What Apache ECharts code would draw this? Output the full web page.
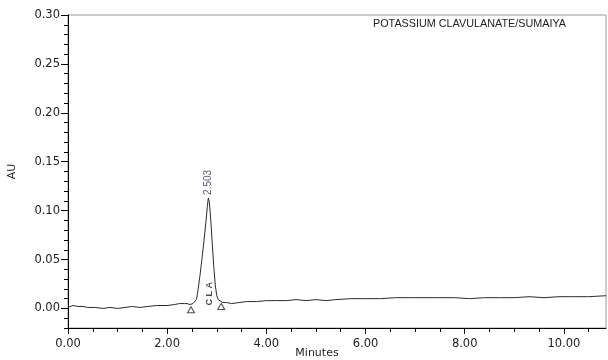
<!DOCTYPE html>
<html>
<head>
<meta charset="utf-8">
<script src="https://cdn.jsdelivr.net/npm/echarts@6/dist/echarts.min.js"></script>
<style>
html,body{margin:0;padding:0;background:#fff;}
#c{width:608px;height:360px;}
</style>
</head>
<body>
<div id="c"></div>
<script>
// ---- data ----
var times = [0.00,0.10,0.20,0.30,0.40,0.55,0.70,0.85,1.00,1.15,1.30,1.45,1.60,1.80,2.00,2.15,2.25,2.35,
  2.40,2.46,2.52,2.56,2.59,2.62,2.66,2.70,2.74,2.78,2.81,2.83,2.85,2.88,2.91,2.94,2.97,3.00,3.03,3.07,3.12,
  3.20,3.30,3.45,3.60,3.80,4.00,4.20,4.40,4.60,4.80,5.00,5.20,5.40,5.70,6.00,6.30,6.60,6.90,7.20,7.50,7.80,
  8.10,8.40,8.70,9.00,9.30,9.60,9.90,10.20,10.50,10.85];
var au = [0.001,0.003,0.002,0.002,0.001,0.001,0.000,0.001,0.000,0.001,0.002,0.001,0.002,0.003,0.003,0.004,0.005,0.005,
  0.005,0.004,0.005,0.006,0.009,0.018,0.033,0.050,0.068,0.088,0.104,0.113,0.109,0.090,0.066,0.043,0.024,0.013,0.009,0.007,0.006,
  0.006,0.005,0.006,0.007,0.007,0.008,0.008,0.008,0.009,0.008,0.009,0.008,0.009,0.010,0.010,0.010,0.011,0.011,0.011,0.011,0.011,
  0.010,0.011,0.011,0.011,0.012,0.011,0.012,0.012,0.012,0.013];
var peakTime = [2.83];
var peakAU = [0.113];
var peakLabel = ['2.503'];
var peakName = ['C L A'];
var nameTime = [2.845];
var nameAU = [0.003];
var markerTimes = [2.48, 3.09];
var markerAU = [-0.0013, 0.002];
var xMajor = [0, 2, 4, 6, 8, 10];
var xMinor = [0.5,1,1.5,2.5,3,3.5,4.5,5,5.5,6.5,7,7.5,8.5,9,9.5,10.5];
var yMajor = [0, 0.05, 0.10, 0.15, 0.20, 0.25, 0.30];
var yMinor = [-0.02,-0.01,0.01,0.02,0.03,0.04,0.06,0.07,0.08,0.09,0.11,0.12,0.13,0.14,0.16,0.17,0.18,0.19,0.21,0.22,0.23,0.24,0.26,0.27,0.28,0.29];
var title = 'POTASSIUM CLAVULANATE/SUMAIYA';

var lineData = times.map(function(t,i){return [t, au[i]];});
var markerData = markerTimes.map(function(t,i){return [t, markerAU[i]];});
var apexData = peakTime.map(function(t,i){return [t, peakAU[i]];});
var nameData = nameTime.map(function(t,i){return [t, nameAU[i]];});

var FONT = 'DejaVu Sans';
var chart = echarts.init(document.getElementById('c'), null, {renderer:'canvas'});
chart.setOption({
  animation: false,
  title: {
    text: title, right: 42, top: 19, padding: 0,
    textStyle: {fontFamily: 'Liberation Sans', fontSize: 10.8, fontWeight: 'normal', color: '#222'}
  },
  grid: {left: 68, right: 2, top: 15, bottom: 32, show: true, borderColor: '#9a9a9a', borderWidth: 1,
    containLabel: false, outerBoundsMode: 'none'},
  xAxis: [{
    type: 'value', min: 0, max: 10.85, interval: 2,
    name: 'Minutes', nameLocation: 'middle', nameGap: 20, nameMoveOverlap: false,
    nameTextStyle: {fontFamily: FONT, fontSize: 11, color: '#222', padding: [0, 40, 0, 0]},
    axisLine: {show: true, onZero: false, lineStyle: {color: '#000', width: 1}},
    axisTick: {show: true, length: 6, customValues: xMajor, lineStyle: {color: '#000'}},
    axisLabel: {customValues: xMajor, formatter: function(v){return v.toFixed(2);}, margin: 10,
      fontFamily: FONT, fontSize: 11.5, color: '#222'},
    splitLine: {show: false}
  },{
    type: 'value', min: 0, max: 10.85, position: 'bottom',
    axisLine: {show: false, onZero: false},
    axisTick: {show: true, length: 4, customValues: xMinor, lineStyle: {color: '#000'}},
    axisLabel: {show: false},
    splitLine: {show: false}
  }],
  yAxis: [{
    type: 'value', min: -0.02, max: 0.30,
    name: 'AU', nameLocation: 'middle', nameGap: 50, nameRotate: 90, nameMoveOverlap: false,
    nameTextStyle: {fontFamily: FONT, fontSize: 11, color: '#222'},
    axisLine: {show: true, onZero: false, lineStyle: {color: '#000', width: 1}},
    axisTick: {show: true, length: 7, customValues: yMajor, lineStyle: {color: '#000'}},
    axisLabel: {customValues: yMajor, formatter: function(v){return v.toFixed(2);}, margin: 8,
      fontFamily: FONT, fontSize: 11.5, color: '#222'},
    splitLine: {show: false}
  },{
    type: 'value', min: -0.02, max: 0.30, position: 'left',
    axisLine: {show: false, onZero: false},
    axisTick: {show: true, length: 4, customValues: yMinor, lineStyle: {color: '#000'}},
    axisLabel: {show: false},
    splitLine: {show: false}
  }],
  series: [{
    type: 'line', data: lineData, showSymbol: false, symbol: 'none',
    lineStyle: {color: '#2a2a2a', width: 1}, z: 3
  },{
    type: 'scatter', data: markerData, symbol: 'triangle', symbolSize: [7, 6],
    itemStyle: {color: '#fff', borderColor: '#222', borderWidth: 1}, z: 4
  },{
    type: 'scatter', data: apexData, symbolSize: 0,
    label: {show: true, position: 'top', distance: 6, rotate: 90, align: 'left', verticalAlign: 'middle',
      offset: [-3, 0],
      formatter: function(p){return peakLabel[p.dataIndex];},
      fontFamily: 'Liberation Sans', fontSize: 10, color: '#1e2a50'}
  },{
    type: 'scatter', data: nameData, symbolSize: 0,
    label: {show: true, position: 'inside', rotate: 90, align: 'left', verticalAlign: 'middle',
      formatter: function(p){return peakName[p.dataIndex];},
      fontFamily: 'Liberation Sans', fontSize: 9, fontWeight: 'bold', color: '#222'}
  }]
});
</script>
</body>
</html>
